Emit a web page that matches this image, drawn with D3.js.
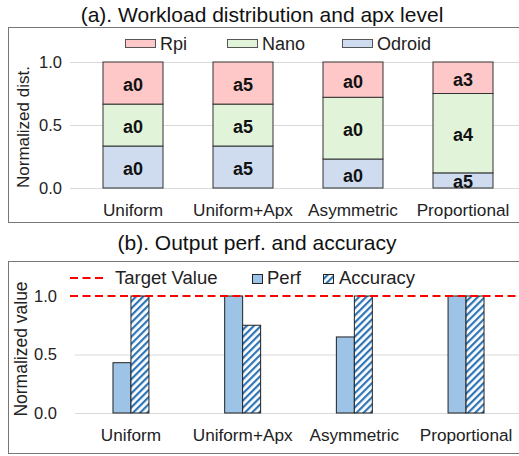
<!DOCTYPE html>
<html>
<head>
<meta charset="utf-8">
<script src="https://cdn.jsdelivr.net/npm/d3@7"></script>
<style>
  body { margin: 0; background: #fff; }
  svg { display: block; font-family: "Liberation Sans", Arial, sans-serif; }
</style>
</head>
<body>
<div id="chart"></div>
<script>
/* chart data */
const categories = ["Uniform", "Uniform+Apx", "Asymmetric", "Proportional"];
const devices = ["Odroid", "Nano", "Rpi"];
const odroidShare = [0.333, 0.333, 0.23, 0.12];
const nanoShare = [0.333, 0.333, 0.49, 0.63];
const rpiShare = [0.334, 0.334, 0.28, 0.25];
const odroidApx = ["a0", "a5", "a0", "a5"];
const nanoApx = ["a0", "a5", "a0", "a4"];
const rpiApx = ["a0", "a5", "a0", "a3"];
const perfValues = [0.43, 1.0, 0.65, 1.0];
const accuracyValues = [1.0, 0.75, 1.0, 1.0];
const targetValue = 1.0;
const yTicks = [0, 0.5, 1.0];

const width = 519, height = 456;
const colors = { Rpi: "#ffc8c8", Nano: "#e1f4da", Odroid: "#cfdcf0" };

const svg = d3.select("#chart").append("svg")
	.attr("width", width)
	.attr("height", height);

const defs = svg.append("defs");
const hatch = defs.append("pattern")
	.attr("id", "hatch")
	.attr("patternUnits", "userSpaceOnUse")
	.attr("width", 5)
	.attr("height", 5)
	.attr("patternTransform", "rotate(45)");
hatch.append("rect").attr("width", 5).attr("height", 5).attr("fill", "#fff");
hatch.append("rect").attr("width", 2.2).attr("height", 5).attr("fill", "#2e75b6");

/* ---------- panel (a) ---------- */
svg.append("text")
	.attr("x", 262).attr("y", 22)
	.attr("text-anchor", "middle")
	.attr("font-size", "21px")
	.attr("fill", "#111")
	.text("(a). Workload distribution and apx level");

svg.append("rect")
	.attr("x", 8.5).attr("y", 27.5)
	.attr("width", 520).attr("height", 195)
	.attr("fill", "none")
	.attr("stroke", "#777");

const xA = d3.scaleBand().domain(categories).range([78, 518])
	.paddingInner(0.4545).paddingOuter(0.2273);
const yA = d3.scaleLinear().domain([0, 1]).range([188, 62]);

const gA = svg.append("g");
gA.selectAll(".grid").data(yTicks).enter().append("line")
	.attr("x1", 70).attr("x2", 519)
	.attr("y1", d => yA(d) + 0.5).attr("y2", d => yA(d) + 0.5)
	.attr("stroke", "#d9d9d9");

gA.append("g")
	.attr("transform", "translate(62,0)")
	.call(d3.axisLeft(yA).tickValues(yTicks).tickFormat(d3.format(".1f")).tickSize(0).tickPadding(0))
	.call(g => g.select(".domain").remove())
	.selectAll("text")
	.attr("font-size", "16.5px").attr("fill", "#222")
	.attr("font-family", "Liberation Sans, Arial, sans-serif");

svg.append("text")
	.attr("transform", "translate(29,127) rotate(-90)")
	.attr("text-anchor", "middle")
	.attr("font-size", "17px")
	.attr("fill", "#222")
	.text("Normalized dist.");

const stackRows = categories.map((c, i) => ({
	cat: c, Odroid: odroidShare[i], Nano: nanoShare[i], Rpi: rpiShare[i],
	labels: { Odroid: odroidApx[i], Nano: nanoApx[i], Rpi: rpiApx[i] }
}));
const series = d3.stack().keys(devices)(stackRows);

series.forEach(s => {
	const seg = gA.append("g").selectAll("g").data(s).enter().append("g");
	seg.append("rect")
		.attr("x", d => xA(d.data.cat))
		.attr("y", d => yA(d[1]))
		.attr("width", xA.bandwidth())
		.attr("height", d => yA(d[0]) - yA(d[1]))
		.attr("fill", colors[s.key])
		.attr("stroke", "#333")
		.attr("stroke-width", 1);
	seg.append("text")
		.attr("x", d => xA(d.data.cat) + xA.bandwidth() / 2)
		.attr("y", d => (yA(d[0]) + yA(d[1])) / 2 + 8)
		.attr("text-anchor", "middle")
		.attr("font-size", "18px")
		.attr("font-weight", "bold")
		.attr("fill", "#111")
		.text(d => d.data.labels[s.key]);
});

gA.append("g").selectAll("text").data(categories).enter().append("text")
	.attr("x", d => xA(d) + xA.bandwidth() / 2)
	.attr("y", 216)
	.attr("text-anchor", "middle")
	.attr("font-size", "17.2px")
	.attr("fill", "#222")
	.text(d => d);

const legA = svg.append("g");
const legItems = [
	{ key: "Rpi", x: 125 },
	{ key: "Nano", x: 227 },
	{ key: "Odroid", x: 342 }
];
legItems.forEach(l => {
	legA.append("rect")
		.attr("x", l.x + 0.5).attr("y", 39.5)
		.attr("width", 30).attr("height", 8)
		.attr("fill", colors[l.key]).attr("stroke", "#555");
	legA.append("text")
		.attr("x", l.x + 35).attr("y", 50)
		.attr("font-size", "18px").attr("fill", "#222")
		.text(l.key);
});

/* ---------- panel (b) ---------- */
svg.append("text")
	.attr("x", 257).attr("y", 250)
	.attr("text-anchor", "middle")
	.attr("font-size", "21px")
	.attr("fill", "#111")
	.text("(b). Output perf. and accuracy");

svg.append("rect")
	.attr("x", 8.5).attr("y", 261.5)
	.attr("width", 520).attr("height", 192)
	.attr("fill", "none")
	.attr("stroke", "#777");

const xB = d3.scaleBand().domain(categories).range([75, 522])
	.paddingInner(0.678).paddingOuter(0.34);
const xInner = d3.scaleBand().domain(["Perf", "Accuracy"]).range([0, xB.bandwidth()]);
const yB = d3.scaleLinear().domain([0, 1]).range([413, 296]);

const gB = svg.append("g");
gB.selectAll(".grid").data([0, 0.5]).enter().append("line")
	.attr("x1", 75).attr("x2", 519)
	.attr("y1", d => yB(d) + 0.5).attr("y2", d => yB(d) + 0.5)
	.attr("stroke", "#d9d9d9");

gB.append("g")
	.attr("transform", "translate(57,0)")
	.call(d3.axisLeft(yB).tickValues(yTicks).tickFormat(d3.format(".1f")).tickSize(0).tickPadding(0))
	.call(g => g.select(".domain").remove())
	.selectAll("text")
	.attr("font-size", "16.5px").attr("fill", "#222")
	.attr("font-family", "Liberation Sans, Arial, sans-serif");

svg.append("text")
	.attr("transform", "translate(27,349) rotate(-90)")
	.attr("text-anchor", "middle")
	.attr("font-size", "17.5px")
	.attr("fill", "#222")
	.text("Normalized value");

const pairs = categories.map((c, i) => ({ cat: c, Perf: perfValues[i], Accuracy: accuracyValues[i] }));
const groups = gB.selectAll(".grp").data(pairs).enter().append("g")
	.attr("transform", d => `translate(${xB(d.cat)},0)`);
groups.selectAll("rect")
	.data(d => ["Perf", "Accuracy"].map(k => ({ key: k, value: d[k] })))
	.enter().append("rect")
	.attr("x", d => xInner(d.key))
	.attr("y", d => yB(d.value))
	.attr("width", xInner.bandwidth())
	.attr("height", d => yB(0) - yB(d.value))
	.attr("fill", d => d.key === "Perf" ? "#9dc3e6" : "url(#hatch)")
	.attr("stroke", "#222")
	.attr("stroke-width", 1);

gB.append("line")
	.attr("x1", 70).attr("x2", 519)
	.attr("y1", yB(targetValue)).attr("y2", yB(targetValue))
	.attr("stroke", "#ff0000")
	.attr("stroke-width", 2)
	.attr("stroke-dasharray", "8,4.5");

gB.append("g").selectAll("text").data(categories).enter().append("text")
	.attr("x", d => xB(d) + xB.bandwidth() / 2)
	.attr("y", 441)
	.attr("text-anchor", "middle")
	.attr("font-size", "17.2px")
	.attr("fill", "#222")
	.text(d => d);

const legB = svg.append("g");
legB.append("line")
	.attr("x1", 70).attr("x2", 104)
	.attr("y1", 278).attr("y2", 278)
	.attr("stroke", "#ff0000").attr("stroke-width", 2)
	.attr("stroke-dasharray", "8,4.5");
legB.append("text").attr("x", 115).attr("y", 284)
	.attr("font-size", "18.5px").attr("fill", "#222").text("Target Value");
legB.append("rect").attr("x", 252.5).attr("y", 274.5).attr("width", 10).attr("height", 9)
	.attr("fill", "#9dc3e6").attr("stroke", "#222");
legB.append("text").attr("x", 267).attr("y", 284)
	.attr("font-size", "18.5px").attr("fill", "#222").text("Perf");
legB.append("rect").attr("x", 323.5).attr("y", 274.5).attr("width", 10).attr("height", 9)
	.attr("fill", "url(#hatch)").attr("stroke", "#222");
legB.append("text").attr("x", 339).attr("y", 284)
	.attr("font-size", "18.5px").attr("fill", "#222").text("Accuracy");
</script>
</body>
</html>
